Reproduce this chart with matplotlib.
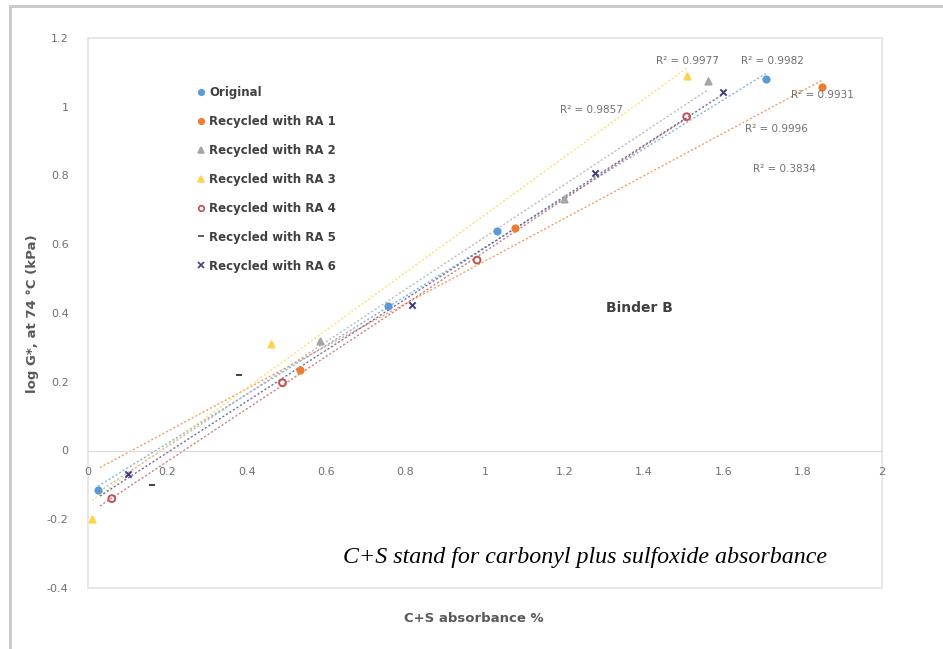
import matplotlib
matplotlib.use("Agg")
import matplotlib.pyplot as plt
from matplotlib.patches import Rectangle
from matplotlib.lines import Line2D
import numpy as np

# data
names = ["Original", "Recycled with RA 1", "Recycled with RA 2", "Recycled with RA 3",
         "Recycled with RA 4", "Recycled with RA 5", "Recycled with RA 6"]
x_orig = [0.025, 0.755, 1.03, 1.707]
y_orig = [-0.116, 0.42, 0.638, 1.08]
x_ra1 = [0.535, 1.076, 1.85]
y_ra1 = [0.235, 0.646, 1.058]
x_ra2 = [0.585, 1.2, 1.562]
y_ra2 = [0.32, 0.733, 1.075]
x_ra3 = [0.01, 0.46, 1.509]
y_ra3 = [-0.2, 0.31, 1.09]
x_ra4 = [0.06, 0.49, 0.98, 1.508]
y_ra4 = [-0.14, 0.197, 0.554, 0.971]
x_ra5 = [0.16, 0.38]
y_ra5 = [-0.1, 0.22]
x_ra6 = [0.1, 0.816, 1.277, 1.6]
y_ra6 = [-0.067, 0.423, 0.806, 1.043]

r2_text = ["R² = 0.9977", "R² = 0.9982", "R² = 0.9857", "R² = 0.9931", "R² = 0.9996", "R² = 0.3834"]
r2_pos = [(1.43, 1.133), (1.645, 1.133), (1.19, 0.99), (1.77, 1.035), (1.655, 0.935), (1.675, 0.82)]

xs = [x_orig, x_ra1, x_ra2, x_ra3, x_ra4, x_ra5, x_ra6]
ys = [y_orig, y_ra1, y_ra2, y_ra3, y_ra4, y_ra5, y_ra6]
colors = ["#5B9BD5", "#ED7D31", "#A5A5A5", "#FFD24D", "#C0504D", "#404040", "#3F3D7A"]
markers = ["o", "o", "^", "^", "o", "_", "x"]
filled = [True, True, True, True, False, True, True]
trend = [True, True, True, True, True, False, True]

fig = plt.figure(figsize=(9.43, 6.49), dpi=100)
ax = fig.add_axes([88 / 943, 1 - 588 / 649, (882 - 88) / 943, (588 - 38) / 649])

for x, y, c, m, f, t, n in zip(xs, ys, colors, markers, filled, trend, names):
    x = np.array(x)
    y = np.array(y)
    if t:
        k, b = np.polyfit(x, y, 1)
        xx = np.linspace(min(0.03, x.min()), x.max(), 50)
        ax.plot(xx, k * xx + b, ls=(0, (1.5, 1.5)), lw=1.0, color=c, alpha=0.75, zorder=2)
    if f:
        ax.scatter(x, y, marker=m, s=20, color=c, linewidths=1.4, zorder=3, label=n)
    else:
        ax.scatter(x, y, marker=m, s=24, facecolors="none", edgecolors=c, linewidths=1.4,
                   zorder=3, label=n)

for t, (px, py) in zip(r2_text, r2_pos):
    ax.text(px, py, t, fontsize=7.5, color="#707070", va="center", ha="left")

ax.set_xlim(0, 2)
ax.set_ylim(-0.4, 1.2)
ax.set_xticks(np.arange(0, 2.01, 0.2))
ax.set_xticklabels(["0", "0.2", "0.4", "0.6", "0.8", "1", "1.2", "1.4", "1.6", "1.8", "2"])
ax.set_yticks(np.arange(-0.4, 1.21, 0.2))
ax.set_yticklabels(["-0.4", "-0.2", "0", "0.2", "0.4", "0.6", "0.8", "1", "1.2"])
ax.tick_params(length=0, labelsize=8, labelcolor="#707070")
ax.tick_params(axis="x", pad=12)
ax.tick_params(axis="y", pad=14)

for s in ["top", "right", "left"]:
    ax.spines[s].set_visible(False)
ax.spines["bottom"].set_position(("data", 0))
ax.spines["bottom"].set_color("#D9D9D9")
ax.add_patch(Rectangle((0, 0), 1, 1, transform=ax.transAxes, fill=False,
                       edgecolor="#E3E3E3", lw=1.2, clip_on=False, zorder=0))

handles = [Line2D([], [], ls="none", marker=m, markersize=4, color=c,
                  markerfacecolor=(c if f else "none"), markeredgewidth=1.2)
           for m, c, f in zip(markers, colors, filled)]
leg = fig.legend(handles, names, loc="upper left", bbox_to_anchor=(190 / 943, 1 - 80 / 649),
                 frameon=False, fontsize=8.5, labelspacing=1.35, handletextpad=0.3,
                 handlelength=0.8, borderpad=0)
for txt in leg.get_texts():
    txt.set_color("#404040")
    txt.set_fontweight("bold")

ax.text(1.39, 0.415, "Binder B", fontsize=10, color="#404040", fontweight="bold",
        ha="center", va="center")
ax.text((585 - 88) / 794, 1 - (557 - 38) / 550, "C+S stand for carbonyl plus sulfoxide absorbance",
        transform=ax.transAxes, ha="center", va="center", fontsize=17.3,
        family="Liberation Serif", style="italic", color="black")

fig.text(474 / 943, 1 - 618 / 649, "C+S absorbance %", ha="center", va="center",
         fontsize=9.5, fontweight="bold", color="#595959")
fig.text(33 / 943, 1 - 314 / 649, "log G*, at 74 °C (kPa)", ha="center", va="center",
         rotation=90, fontsize=9.5, fontweight="bold", color="#595959")

# outer chart frame
fig.add_artist(Line2D([10 / 943, 1], [1 - 6 / 649, 1 - 6 / 649], color="#C8C8C8", lw=2))
fig.add_artist(Line2D([10 / 943, 10 / 943], [0, 1 - 6 / 649], color="#C8C8C8", lw=2))

fig.savefig("out.png", dpi=100)
